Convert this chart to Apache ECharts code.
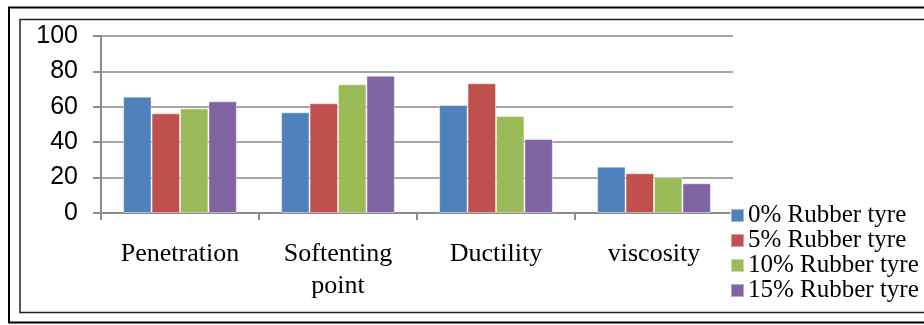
<!DOCTYPE html>
<html>
<head>
<meta charset="utf-8">
<script src="https://cdn.jsdelivr.net/npm/echarts@6/dist/echarts.min.js"></script>
<style>
  html, body { margin: 0; padding: 0; background: #fff; }
  #chart { width: 924px; height: 325px; }
</style>
</head>
<body>
<div id="chart"></div>
<script>
'use strict';

// categories and series
var categories = ['Penetration', 'Softenting\npoint', 'Ductility', 'viscosity'];
var seriesNames = ['0% Rubber tyre', '5% Rubber tyre', '10% Rubber tyre', '15% Rubber tyre'];
var rubber0 = [65.7, 56.9, 61, 26.2];
var rubber5 = [56.3, 62, 73.3, 22.4];
var rubber10 = [59.1, 72.7, 54.8, 20.2];
var rubber15 = [63.1, 77.6, 41.8, 16.8];
var seriesColors = ['#4F81BD', '#C0504D', '#9BBB59', '#8064A2'];

var values = [rubber0, rubber5, rubber10, rubber15];

var series = [];
for (var i = 0; i < seriesNames.length; i++) {
    series.push({
        name: seriesNames[i],
        type: 'bar',
        data: values[i],
        barGap: '0%',
        barCategoryGap: '28%',
        itemStyle: {
            color: seriesColors[i],
            borderColor: 'rgba(255,255,255,0.45)',
            borderWidth: 1
        }
    });
}

var myChart = echarts.init(document.getElementById('chart'), null, { renderer: 'canvas' });

var option = {
    animation: false,
    backgroundColor: '#fff',
    grid: { left: 101, right: 191, top: 36, bottom: 112, containLabel: false },
    legend: {
        orient: 'vertical',
        left: 730,
        top: 203,
        padding: 0,
        itemWidth: 13,
        itemHeight: 13,
        itemGap: 0,
        icon: 'rect',
        textStyle: {
            fontFamily: 'Liberation Serif',
            fontSize: 25,
            lineHeight: 22,
            color: '#000',
            padding: [0, 0, 0, -1]
        },
        data: seriesNames
    },
    xAxis: {
        type: 'category',
        data: categories,
        axisLine: { lineStyle: { color: '#8c8c8c', width: 2 } },
        axisTick: { show: true, length: 7, lineStyle: { color: '#8c8c8c', width: 2 } },
        axisLabel: {
            fontFamily: 'Liberation Serif',
            fontSize: 26,
            color: '#000',
            lineHeight: 32,
            margin: 25,
            interval: 0
        }
    },
    yAxis: {
        type: 'value',
        min: 0,
        max: 100,
        interval: 20,
        axisLine: { show: true, lineStyle: { color: '#8c8c8c', width: 2 } },
        axisTick: { show: true, length: 8, lineStyle: { color: '#8c8c8c', width: 2 } },
        axisLabel: {
            fontFamily: 'Liberation Sans',
            fontSize: 25,
            color: '#000',
            margin: 23
        },
        splitLine: { lineStyle: { color: '#a6a6a6', width: 2 } }
    },
    graphic: [
        {
            type: 'rect',
            shape: { x: 9, y: 7.5, width: 940, height: 315 },
            style: { fill: 'none', stroke: '#000', lineWidth: 2 },
            silent: true
        },
        {
            type: 'rect',
            shape: { x: 20, y: 19.5, width: 920, height: 293 },
            style: { fill: 'none', stroke: '#222', lineWidth: 1.5 },
            silent: true
        }
    ],
    series: series
};

myChart.setOption(option);
</script>
</body>
</html>
